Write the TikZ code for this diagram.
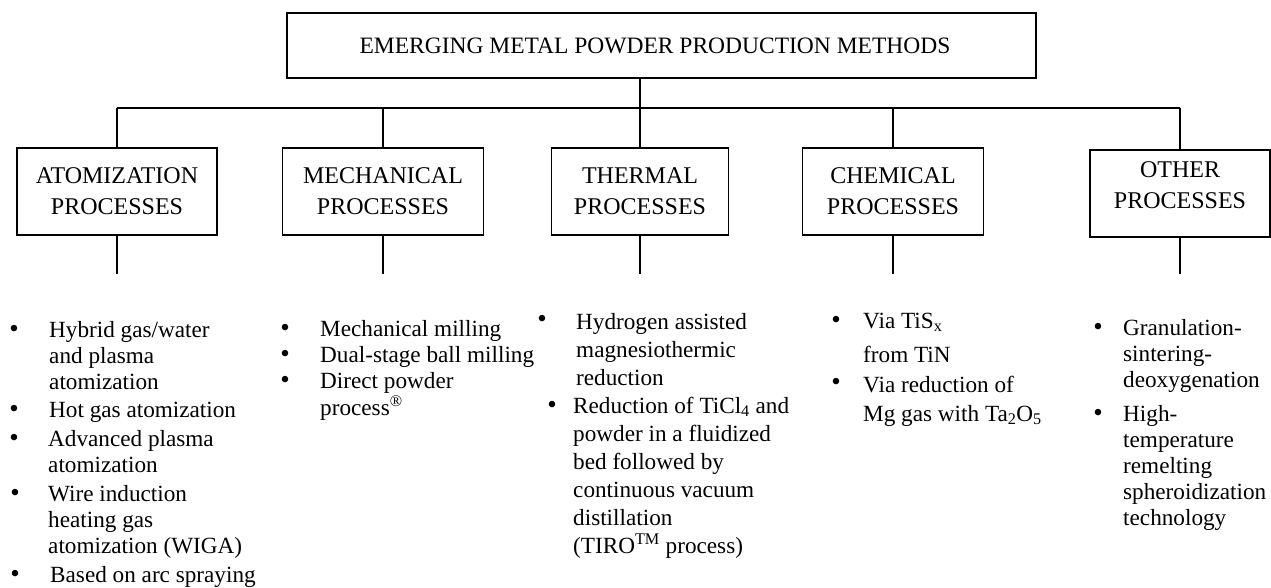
\documentclass[tikz,border=0pt]{standalone}
\usepackage{fontspec}
\setmainfont{Liberation Serif}
\newcommand{\stack}[1]{\begin{tabular}[t]{@{}l@{}}#1\end{tabular}}
\begin{document}
\begin{tikzpicture}[x=1pt, y=-1pt,
        every node/.style={inner sep=0pt},
        headbox/.style={draw, line width=1.5pt, minimum width=749pt, minimum height=65pt,
            font=\fontsize{23.5}{28}\selectfont},
        procbox/.style={draw, line width=1.5pt, minimum height=87pt, align=center,
            font=\fontsize{24}{31}\selectfont},
        listitem/.style={anchor=base west, font=\fontsize{23.2}{26}\selectfont},
        bulletmark/.style={anchor=base, font=\fontsize{27}{26}\selectfont},
        wire/.style={line width=1.3pt}]
        \useasboundingbox (0,0) rectangle (1271,588);
        \node (main_box) [headbox] at (661.5,45.5) {\hspace*{-13pt}EMERGING METAL POWDER PRODUCTION METHODS};
        \node (atom_box) [procbox, minimum width=200pt] at (117,191.5) {ATOMIZATION\\PROCESSES};
        \node (mech_box) [procbox, minimum width=201pt] at (383,191.5) {MECHANICAL\\PROCESSES};
        \node (therm_box) [procbox, minimum width=177pt] at (640,191.5) {THERMAL\\PROCESSES};
        \node (chem_box) [procbox, minimum width=181pt] at (893,191.5) {CHEMICAL\\PROCESSES};
        \node (other_box) [procbox, minimum width=180pt] at (1180,193.5)
            {\raisebox{7pt}[\height][\depth]{\begin{tabular}{@{}c@{}}OTHER\\PROCESSES\end{tabular}}};
        \coordinate (bus) at (0,108);
        \coordinate (low) at (0,274);
        \path (main_box.south -| therm_box.north) edge[wire] (therm_box.north);
        \path (atom_box.north |- bus) edge[wire] (other_box.north |- bus);
        \path (atom_box.north |- bus) edge[wire] (atom_box.north);
        \path (mech_box.north |- bus) edge[wire] (mech_box.north);
        \path (chem_box.north |- bus) edge[wire] (chem_box.north);
        \path (other_box.north |- bus) edge[wire] (other_box.north);
        \path (atom_box.south) edge[wire] (atom_box.south |- low);
        \path (mech_box.south) edge[wire] (mech_box.south |- low);
        \path (therm_box.south) edge[wire] (therm_box.south |- low);
        \path (chem_box.south) edge[wire] (chem_box.south |- low);
        \path (other_box.south) edge[wire] (other_box.south |- low);

        \node (atom_b1) [bulletmark] at (14,337) {\textbullet};
        \node (atom_t1) [listitem] at (49,337) {\stack{Hybrid gas/water\\and plasma\\atomization}};
        \node (atom_b2) [bulletmark] at (14,417) {\textbullet};
        \node (atom_t2) [listitem] at (49,417) {Hot gas atomization};
        \node (atom_b3) [bulletmark] at (14,446) {\textbullet};
        \node (atom_t3) [listitem] at (48,446) {\stack{Advanced plasma\\atomization}};
        \node (atom_b4) [bulletmark] at (15,501) {\textbullet};
        \node (atom_t4) [listitem] at (48,501) {\stack{Wire induction\\heating gas\\atomization (WIGA)}};
        \node (atom_b5) [bulletmark] at (15,582) {\textbullet};
        \node (atom_t5) [listitem] at (50,582) {Based on arc spraying};

        \node (mech_b1) [bulletmark] at (285,336) {\textbullet};
        \node (mech_t1) [listitem] at (320,336) {Mechanical milling};
        \node (mech_b2) [bulletmark] at (285,362) {\textbullet};
        \node (mech_t2) [listitem] at (320,362) {Dual-stage ball milling};
        \node (mech_b3) [bulletmark] at (285,388) {\textbullet};
        \node (mech_t3) [listitem] at (320,388) {\stack{Direct powder\\process\textsuperscript{\textregistered}}};

        \node (therm_b1) [bulletmark] at (542,327) {\textbullet};
        \node (therm_t1) [listitem, font=\fontsize{23.2}{28}\selectfont] at (576,329)
            {\stack{Hydrogen assisted\\magnesiothermic\\reduction}};
        \node (therm_b2) [bulletmark] at (552,413) {\textbullet};
        \node (therm_t2) [listitem, font=\fontsize{23.2}{28}\selectfont] at (573,413)
            {\stack{Reduction of TiCl\textsubscript{4} and\\powder in a fluidized\\bed followed by\\continuous vacuum\\distillation\\(TIRO\textsuperscript{TM} process)}};

        \node (chem_b1) [bulletmark] at (836,328) {\textbullet};
        \node (chem_t1) [listitem] at (863,328) {\stack{Via TiS\textsubscript{x}\\[8pt]from TiN}};
        \node (chem_b2) [bulletmark] at (836,390) {\textbullet};
        \node (chem_t2) [listitem] at (863,392) {\stack{Via reduction of\\[3pt]Mg gas with Ta\textsubscript{2}O\textsubscript{5}}};

        \node (other_b1) [bulletmark] at (1098,335) {\textbullet};
        \node (other_t1) [listitem] at (1123,335) {\stack{Granulation-\\sintering-\\deoxygenation}};
        \node (other_b2) [bulletmark] at (1098,421) {\textbullet};
        \node (other_t2) [listitem] at (1123,421) {\stack{High-\\temperature\\remelting\\spheroidization\\technology}};
\end{tikzpicture}
\end{document}
